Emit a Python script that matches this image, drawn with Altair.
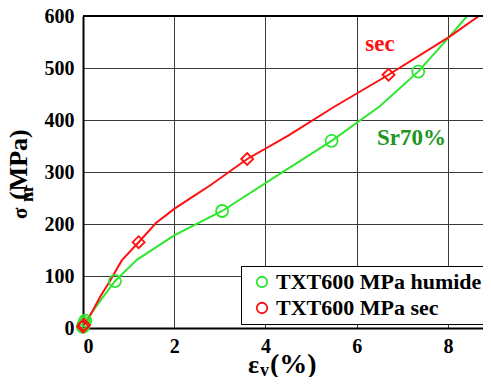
import altair as alt
import pandas as pd

# ---- data ----
hum_line_x = [0.0, 0.1, 0.4, 0.7, 1.18, 2.0, 3.05, 4.47, 5.45, 6.5, 7.35, 8.03, 8.42]
hum_line_y = [5, 18, 55, 90, 131, 178, 225, 305, 360, 426, 493, 560, 600]
sec_line_x = [0.0, 0.1, 0.37, 0.6, 0.85, 1.22, 1.6, 2.0, 2.4, 2.8, 3.6, 4.5, 5.5, 6.7, 8.03, 8.68]
sec_line_y = [3, 15, 59, 92, 130, 165, 202, 229, 252, 275, 325, 370, 425, 487, 560, 600]

hum_mark_x = [0.0, 0.01, 0.03, 0.05, 0.7, 3.05, 5.45, 7.35]
hum_mark_y = [2, 6, 10, 14, 90, 225, 360, 493]
sec_mark_x = [0.0, 0.02, 1.22, 3.6, 6.7]
sec_mark_y = [3, 6, 165, 325, 487]

series_names = ["TXT600 MPa humide", "TXT600 MPa sec"]
series_colors = ["#2ee62e", "#ff1010"]
series_shapes = ["circle", "diamond"]

x_ticks = [0, 2, 4, 6, 8]
y_ticks = [0, 100, 200, 300, 400, 500, 600]

ann_text = ["sec", "Sr70%"]
ann_x = [6.51, 7.2]
ann_y = [533, 352]
ann_color = ["#ff1010", "#1e961e"]

FONT = "Liberation Serif, Times New Roman, Times, serif"

lines = pd.DataFrame(
    {"x": hum_line_x + sec_line_x,
     "y": hum_line_y + sec_line_y,
     "s": [series_names[0]] * len(hum_line_x) + [series_names[1]] * len(sec_line_x)}
)
marks = pd.DataFrame(
    {"x": hum_mark_x + sec_mark_x,
     "y": hum_mark_y + sec_mark_y,
     "s": [series_names[0]] * len(hum_mark_x) + [series_names[1]] * len(sec_mark_x)}
)
ann = pd.DataFrame({"t": ann_text, "x": ann_x, "y": ann_y, "c": ann_color})

xscale = alt.Scale(domain=[0, 8.77], nice=False, zero=False)
yscale = alt.Scale(domain=[0, 600], nice=False)
cscale = alt.Scale(domain=series_names, range=series_colors)
shscale = alt.Scale(domain=series_names, range=series_shapes)

xaxis = alt.Axis(values=x_ticks, title=None, labelFont=FONT, labelFontWeight="bold",
                 labelFontSize=20, labelColor="black", labelBaseline="alphabetic",
                 labelPadding=24, ticks=False, tickSize=0, domainColor="black", domainWidth=2,
                 grid=True, gridColor="#3a3a3a", gridWidth=1, gridOpacity=1)
yaxis = alt.Axis(values=y_ticks, title=None, labelFont=FONT, labelFontWeight="bold",
                 labelFontSize=20, labelColor="black", labelBaseline="alphabetic",
                 labelOffset=6, labelPadding=9, ticks=False, tickSize=0,
                 domainColor="black", domainWidth=2,
                 grid=True, gridColor="#3a3a3a", gridWidth=1, gridOpacity=1)

legend_def = alt.Legend(orient="none", legendX=158, legendY=250,
                        labelFont=FONT, labelFontWeight="bold", labelFontSize=22,
                        labelColor="black", labelLimit=400, fillColor="white", strokeColor="black",
                        padding=5, symbolOffset=5, labelOffset=3, rowPadding=4,
                        symbolSize=110, symbolStrokeWidth=1.8, symbolFillColor="white",
                        cornerRadius=0)

line_layer = alt.Chart(lines).mark_line(strokeWidth=2, clip=True).encode(
    x=alt.X("x:Q", scale=xscale, axis=xaxis),
    y=alt.Y("y:Q", scale=yscale, axis=yaxis),
    color=alt.Color("s:N", scale=cscale, legend=None),
    detail="s:N",
)

# top frame line of the plot box
top_frame = alt.Chart(lines).mark_rule(color="black", strokeWidth=2).encode(
    x=alt.value(0), x2=alt.value(400), y=alt.value(0)
)

point_layer = alt.Chart(marks).mark_point(filled=False, size=144, strokeWidth=1.8, opacity=1).encode(
    x=alt.X("x:Q", scale=xscale),
    y=alt.Y("y:Q", scale=yscale),
    color=alt.Color("s:N", scale=cscale, title=None, legend=legend_def),
    shape=alt.Shape("s:N", scale=shscale, title=None, legend=legend_def),
)

ann_layer = alt.Chart(ann).mark_text(font=FONT, fontWeight="bold", fontSize=23,
                                     align="center", baseline="alphabetic").encode(
    x=alt.X("x:Q", scale=xscale),
    y=alt.Y("y:Q", scale=yscale),
    text="t:N",
    color=alt.Color("c:N", scale=None),
)

# axis titles with subscripts (pixel offsets from the plot's top-left corner)
ytitle_t = ["\u03c3", "m", "(MPa)"]
ytitle_px = [-56, -50, -56]
ytitle_py = [203, 186, 184]
ytitle_fs = [21, 18, 26]
xtitle_t = ["\u03b5", "v", "(%)"]
xtitle_px = [165, 177, 187]
xtitle_py = [357, 360, 357]
xtitle_fs = [26, 18, 28]

ytitle_df = pd.DataFrame({"t": ytitle_t, "px": ytitle_px, "py": ytitle_py, "fs": ytitle_fs})
xtitle_df = pd.DataFrame({"t": xtitle_t, "px": xtitle_px, "py": xtitle_py, "fs": xtitle_fs})

ytitle = alt.Chart(ytitle_df).mark_text(font=FONT, fontWeight="bold", angle=270, align="left",
                                        baseline="alphabetic", color="black").encode(
    x=alt.X("px:Q", scale=None), y=alt.Y("py:Q", scale=None), text="t:N",
    size=alt.Size("fs:Q", scale=None, legend=None),
)
xtitle = alt.Chart(xtitle_df).mark_text(font=FONT, fontWeight="bold", align="left",
                                        baseline="alphabetic", color="black").encode(
    x=alt.X("px:Q", scale=None), y=alt.Y("py:Q", scale=None), text="t:N",
    size=alt.Size("fs:Q", scale=None, legend=None),
)

chart = alt.layer(line_layer, top_frame, point_layer, ann_layer, ytitle, xtitle).resolve_scale(
    color="independent"
).properties(
    width=400, height=312,
    autosize=alt.AutoSizeParams(type="none"),
    padding={"left": 75, "top": 8, "right": 0, "bottom": 49},
    background="white",
).configure(font=FONT).configure_axis(
    labelFont=FONT, labelFontWeight="bold"
).configure_legend(
    labelFont=FONT, labelFontWeight="bold"
).configure_text(font=FONT).configure_view(stroke="transparent", strokeWidth=0)

chart.save("out.html", embed_options={"renderer": "svg", "actions": False})
